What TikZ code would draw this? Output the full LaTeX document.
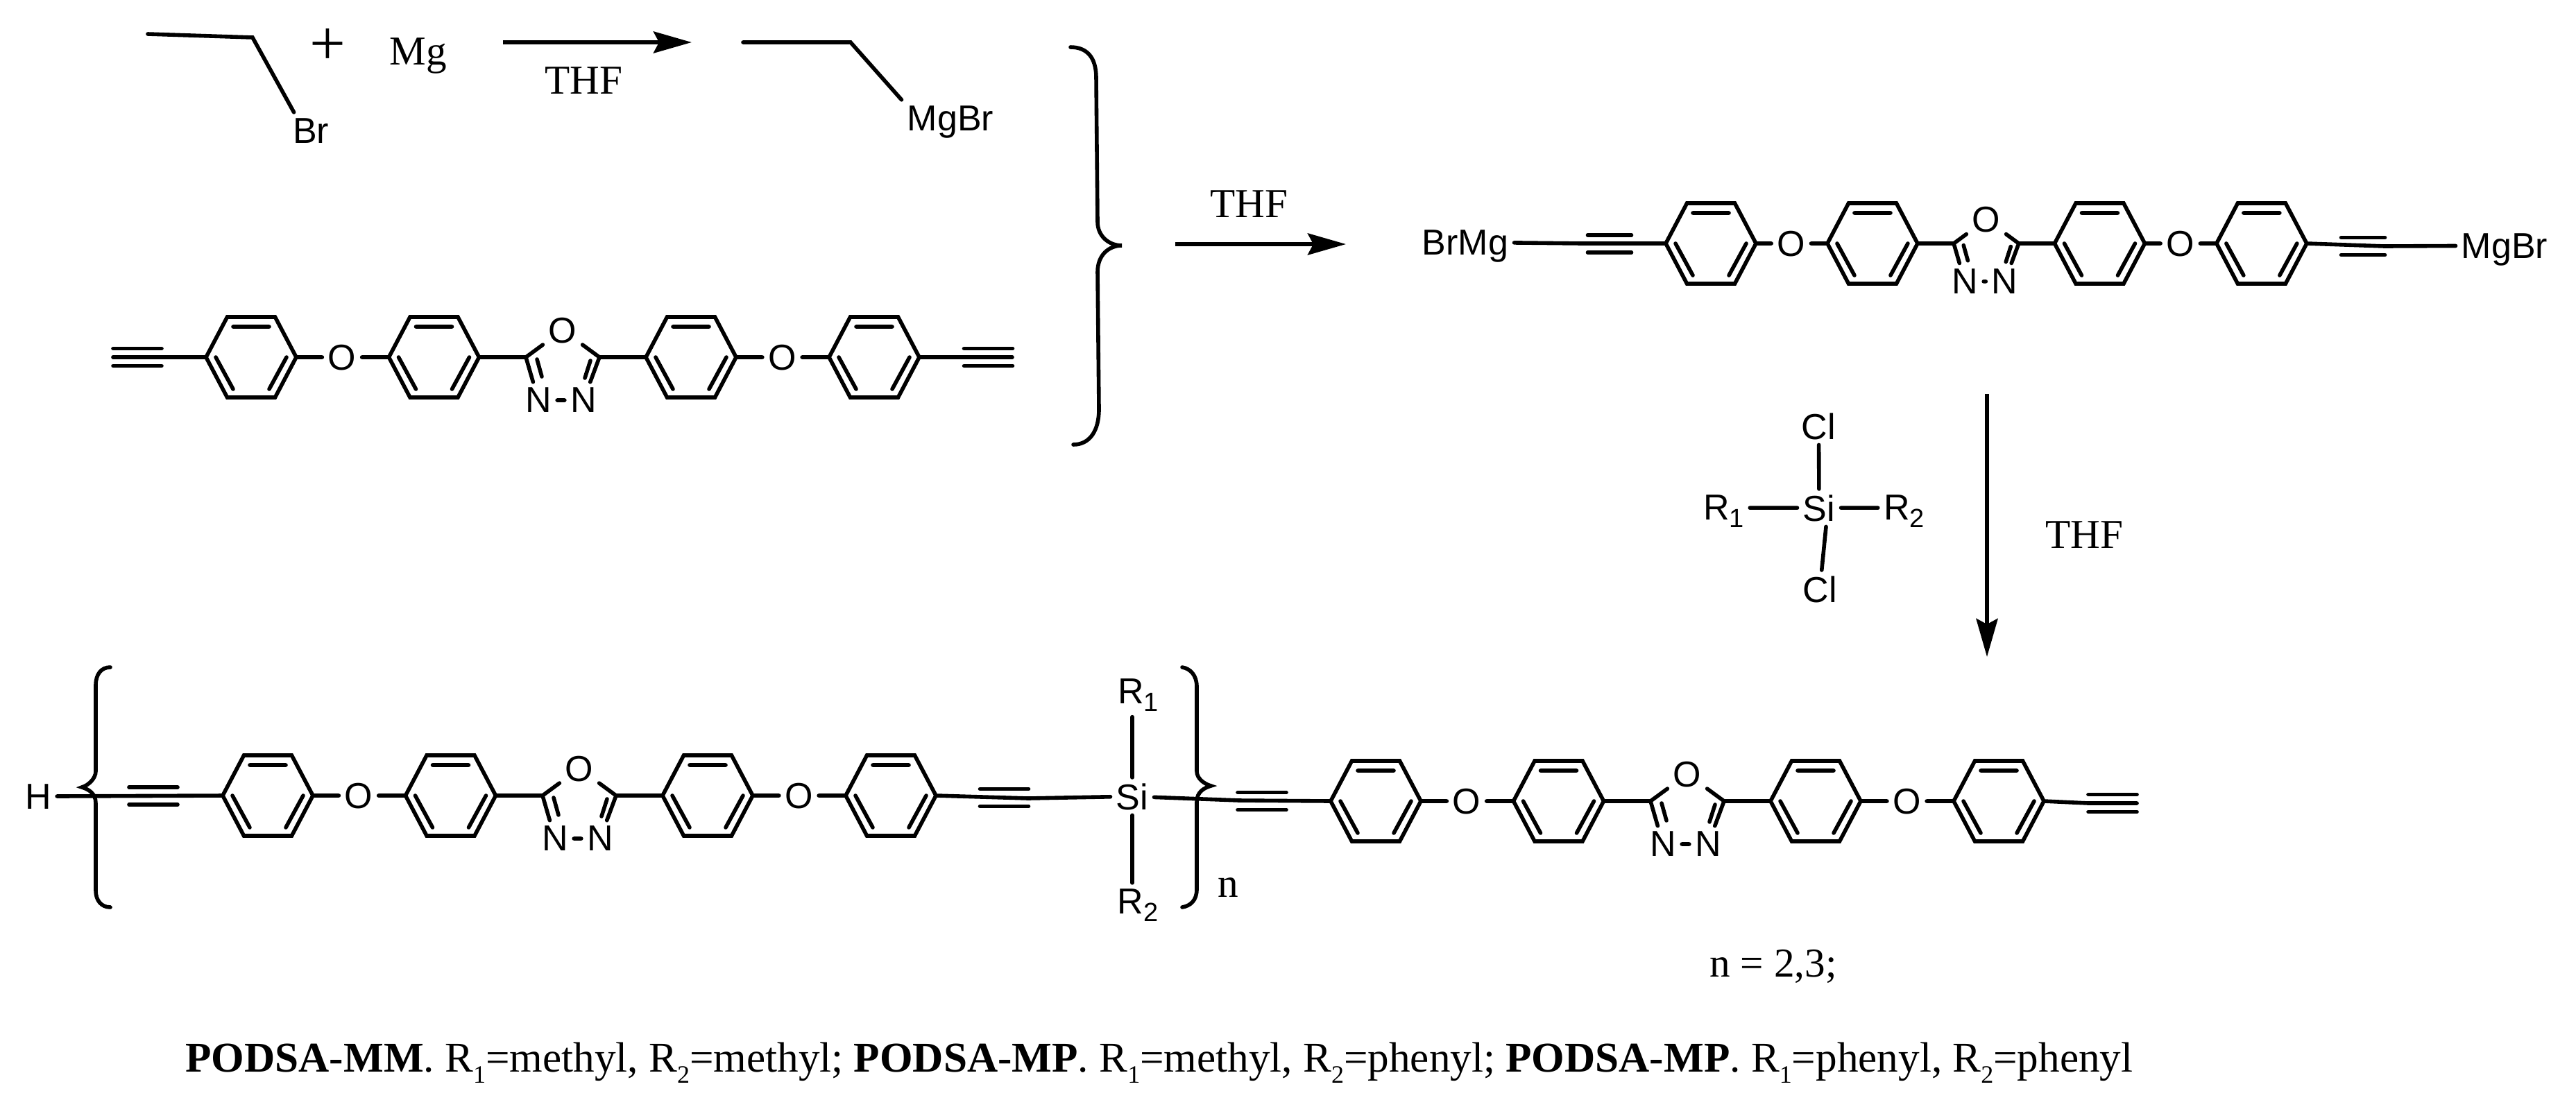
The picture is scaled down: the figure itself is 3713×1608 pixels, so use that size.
\documentclass[tikz,border=0pt]{standalone}
\usepackage{fontspec}
\setmainfont{Liberation Serif}
\setsansfont{Liberation Sans}
\usetikzlibrary{arrows.meta}
\newcommand{\sbs}[1]{\raisebox{-2.8pt}{\fontsize{9.5}{9.5}\selectfont #1}}
\newcommand{\sbt}[1]{\raisebox{-4pt}{\fontsize{9}{9}\selectfont #1}}
\tikzset{
  phenyl/.pic={
    \draw[bond] (-65,0) coordinate (-l) -- (-34.5,-58) -- (34.5,-58)
      -- (65,0) coordinate (-r) -- (34.5,58) -- (-34.5,58) -- cycle;
    \draw[bond] (-26,-44) -- (26,-44) (-51,0) -- (-26,46) (51,0) -- (26,46);
  },
  alkyne/.pic={
    \draw[bond] (-35,-12.5) -- (35,-12.5) (-35,12.5) -- (35,12.5);
  },
  unit/.pic={
    \pic (-r1) at (0,0) {phenyl};
    \pic (-r2) at (263.5,0) {phenyl};
    \pic (-r3) at (634,0) {phenyl};
    \pic (-r4) at (898,0) {phenyl};
    \node[atom,anchor=center] (-o1) at (131,0) {O};
    \node[atom,anchor=center] (-o2) at (765.5,0) {O};
    \node[atom,anchor=center] (-ox) at (449,-39) {O};
    \node[atom,anchor=center] (-n1) at (414,62) {N};
    \node[atom,anchor=center] (-n2) at (479,62) {N};
    \coordinate (-c1) at (396,0);
    \coordinate (-c2) at (502,0);
    \draw[bond] (-r1-r) -- (-o1) (-o1) -- (-r2-l) (-r2-r) -- (-c1)
      (-c1) -- (-ox) (-c2) -- (-ox) (-c2) -- (-r3-l) (-r3-r) -- (-o2)
      (-o2) -- (-r4-l) (-c1) -- (-n1) (-c2) -- (-n2) (-n1) -- (-n2);
    \draw[bond] (412,3) -- (419,28) (489,5) -- (481,30);
  }
}
\begin{document}
\begin{tikzpicture}[x=.25pt,y=-.25pt,
      bond/.style = {line width=1.4pt, line cap=round},
      rxn/.style = {line width=1.5pt,
        -{Stealth[length=13.75pt,width=7.75pt,inset=2pt]}},
      atom/.style = {font=\sffamily\fontsize{13}{13}\selectfont,
        inner sep=1.9pt, text depth=0pt, anchor=base},
      sub/.style = {atom, text depth=2.8pt},
      label/.style = {font=\fontsize{14.8}{16}\selectfont,
        inner sep=0pt, anchor=base}]
  \useasboundingbox (0,0) rectangle (3713,1608);

  \coordinate (e1) at (213,49);
  \coordinate (e2) at (364,54);
  \node[atom] (br) at (448,206) {Br};
  \draw[bond] (e1) -- (e2) -- ([xshift=2.5pt]br.north west);
  \node[font=\fontsize{23}{23}\selectfont, inner sep=0pt] (plus) at (472,68) {+};
  \node[label] (mg) at (603,93) {Mg};
  \coordinate (a1s) at (725,61);
  \coordinate (a1e) at (997,61);
  \draw[rxn] (a1s) -- (a1e);
  \node[label] (thf1) at (841,135) {THF};
  \coordinate (p1) at (1071,61);
  \coordinate (p2) at (1226,61);
  \node[atom] (mgbr) at (1370,188) {MgBr};
  \draw[bond] (p1) -- (p2) -- (mgbr.north west);

  \pic (a) at (362,515) {unit};
  \pic at (198,515) {alkyne};
  \pic at (1424.5,515) {alkyne};
  \coordinate (al) at (163,515);
  \coordinate (ar) at (1459,515);
  \draw[bond] (al) -- (a-r1-l) (a-r4-r) -- (ar);

  \draw[bond] (1543,68) .. controls (1566,68) and (1580,82) .. (1580,112)
    -- (1582,320) .. controls (1582,340) and (1598,354) .. (1617,354)
    .. controls (1598,354) and (1582,368) .. (1582,392)
    -- (1584,590) .. controls (1584,622) and (1570,641) .. (1547,641);

  \coordinate (a2s) at (1694,352);
  \coordinate (a2e) at (1940,352);
  \draw[rxn] (a2s) -- (a2e);
  \node[label] (thf2) at (1800,313) {THF};

  \pic[scale=.884] (b) at (2466,351) {unit};
  \pic[xscale=.9] at (2320,351.5) {alkyne};
  \pic[xscale=.9] at (3406,355) {alkyne};
  \node[atom] (brmg) at (2112,367) {BrMg};
  \node[atom] (mgbr2) at (3610,372) {MgBr};
  \coordinate (bl) at (2280,351);
  \coordinate (br2) at (3437,355);
  \draw[bond] (brmg) -- (bl) -- (b-r1-l) (b-r4-r) -- (br2) -- (mgbr2);

  \node[atom] (cl1) at (2621.5,633) {Cl};
  \node[atom] (si1) at (2622,751) {Si};
  \node[atom] (cl2) at (2623,868) {Cl};
  \node[atom] (rl) at (2484.5,749) {R\sbs{1}};
  \node[atom] (rr) at (2744.5,749) {R\sbs{2}};
  \draw[bond] (si1) -- (cl1) ([xshift=2.5pt]si1.south) -- (cl2)
    (si1) -- (si1 -| rl.east) (si1) -- (si1 -| rr.west);

  \coordinate (a3s) at (2864,568);
  \coordinate (a3e) at (2864,947);
  \draw[rxn] (a3s) -- (a3e);
  \node[label] (thf3) at (3004,790) {THF};

  \node[atom] (h) at (55,1166) {H};
  \pic (c) at (386,1147) {unit};
  \pic at (221,1147.5) {alkyne};
  \draw[bond] (h) -- (c-r1-l);
  \draw[bond] (159,962) .. controls (146,962) and (138,972) .. (138,988)
    -- (138,1112) .. controls (138,1122) and (128,1132) .. (118,1135)
    .. controls (128,1138) and (138,1144) .. (138,1158)
    -- (138,1284) .. controls (138,1298) and (146,1308) .. (159,1308);

  \pic (d) at (1983,1155) {unit};
  \pic at (1819,1155) {alkyne};
  \pic at (3045,1158) {alkyne};
  \coordinate (dr1) at (3010,1158);
  \coordinate (dr2) at (3080,1158);
  \draw[bond] (d-r4-r) -- (dr1) -- (dr2);

  \node[atom] (si2) at (1632,1167) {Si};
  \node[sub] (r1) at (1640.5,1014) {R\sbs{1}};
  \node[sub] (r2) at (1640,1317) {R\sbs{2}};
  \pic at (1447.5,1150) {alkyne};
  \coordinate (cr) at (1482,1151);
  \coordinate (dl) at (1786,1154);
  \draw[bond] (c-r4-r) -- (cr) -- (si2) (si2) -- (dl) -- (d-r1-l);
  \draw[bond] (si2) -- (si2 |- r1.south) (si2) -- (si2 |- r2.north);
  \draw[bond] (1704,962) .. controls (1716,964) and (1725,974) .. (1725,990)
    -- (1725,1112) .. controls (1725,1122) and (1735,1130) .. (1745.5,1133)
    .. controls (1735,1136) and (1725,1142) .. (1725,1156)
    -- (1725,1282) .. controls (1725,1298) and (1716,1306) .. (1704,1308);
  \node[label] (n) at (1770,1293) {n};

  \node[label] (nval) at (2556,1408) {n = 2,3;};

  \node[label,font=\fontsize{15.3}{16}\selectfont] (cap) at (1671,1545) {\textbf{PODSA-MM}. R\sbt{1}=methyl, R\sbt{2}=methyl; \textbf{PODSA-MP}. R\sbt{1}=methyl, R\sbt{2}=phenyl; \textbf{PODSA-MP}. R\sbt{1}=phenyl, R\sbt{2}=phenyl};
\end{tikzpicture}
\end{document}
